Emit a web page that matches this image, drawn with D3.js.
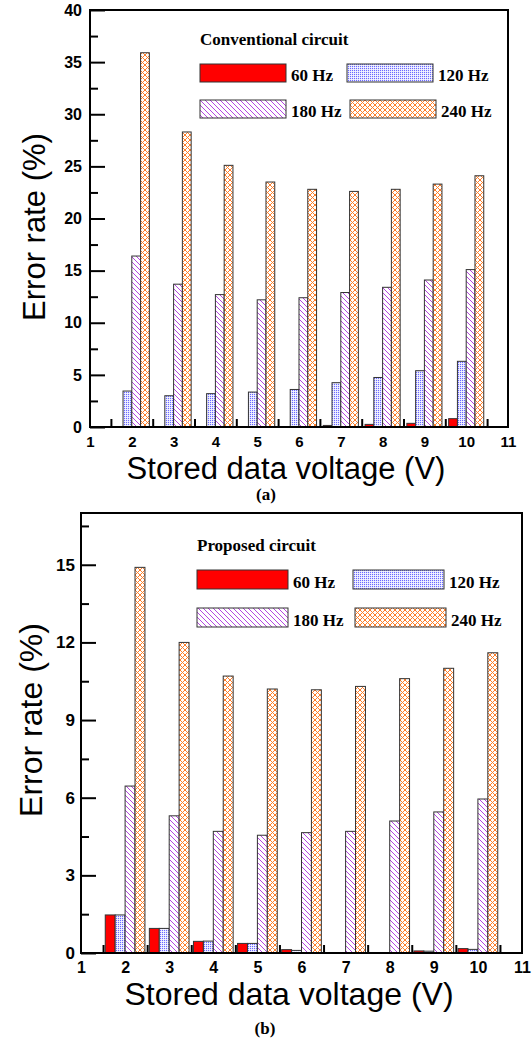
<!DOCTYPE html>
<html>
<head>
<meta charset="utf-8">
<script src="https://cdn.jsdelivr.net/npm/d3@7"></script>
<style>
  body { margin: 0; background: #fff; }
  svg { display: block; }
</style>
</head>
<body>
<div id="chart-container"></div>
<script>
// Error rate vs stored data voltage, two panels: conventional (a) and proposed (b) circuit
const voltages = [2, 3, 4, 5, 6, 7, 8, 9, 10];
const freqLabels = ["60 Hz", "120 Hz", "180 Hz", "240 Hz"];
const xTickLabels = [1, 2, 3, 4, 5, 6, 7, 8, 9, 10, 11];
const xMinorTicks = [1.5, 2.5, 3.5, 4.5, 5.5, 6.5, 7.5, 8.5, 9.5, 10.5];

// (a) conventional circuit
const convHz60 = [0, 0, 0, 0, 0.03, 0.15, 0.25, 0.35, 0.8];
const convHz120 = [3.45, 3.0, 3.2, 3.35, 3.6, 4.25, 4.75, 5.4, 6.3];
const convHz180 = [16.4, 13.7, 12.7, 12.2, 12.4, 12.9, 13.4, 14.1, 15.1];
const convHz240 = [35.9, 28.3, 25.1, 23.5, 22.8, 22.6, 22.8, 23.3, 24.1];
const convYTicks = [0, 5, 10, 15, 20, 25, 30, 35, 40];
const convYMinor = [2.5, 7.5, 12.5, 17.5, 22.5, 27.5, 32.5, 37.5];

// (b) proposed circuit
const propHz60 = [1.47, 0.95, 0.45, 0.37, 0.13, 0, 0, 0.08, 0.17];
const propHz120 = [1.47, 0.95, 0.46, 0.37, 0.1, 0, 0, 0.07, 0.14];
const propHz180 = [6.45, 5.3, 4.7, 4.55, 4.65, 4.7, 5.1, 5.45, 5.95];
const propHz240 = [14.9, 12.0, 10.7, 10.2, 10.17, 10.3, 10.6, 11.0, 11.6];
const propYTicks = [0, 3, 6, 9, 12, 15];
const propYMinor = [1.5, 4.5, 7.5, 10.5, 13.5, 16.5];

const W = 532, H = 1040;
const svg = d3.select("#chart-container").append("svg")
    .attr("width", W)
    .attr("height", H);

svg.append("rect").attr("width", W).attr("height", H).attr("fill", "#fff");

// fill patterns
const defs = svg.append("defs");

const p120 = defs.append("pattern").attr("id", "p120")
    .attr("patternUnits", "userSpaceOnUse").attr("width", 2).attr("height", 2);
p120.append("rect").attr("width", 2).attr("height", 2).attr("fill", "#e4e4ff");
p120.append("rect").attr("width", 1).attr("height", 1).attr("fill", "#6a6aff");
p120.append("rect").attr("x", 1).attr("y", 1).attr("width", 1).attr("height", 1).attr("fill", "#f4f4ff");

const p180 = defs.append("pattern").attr("id", "p180")
    .attr("patternUnits", "userSpaceOnUse").attr("width", 5).attr("height", 5);
p180.append("rect").attr("width", 5).attr("height", 5).attr("fill", "#fff");
p180.append("path")
    .attr("d", "M0,0L5,5M-1,4L1,6M4,-1L6,1")
    .attr("stroke", "#b447e0").attr("stroke-width", 1);

const p240 = defs.append("pattern").attr("id", "p240")
    .attr("patternUnits", "userSpaceOnUse").attr("width", 5).attr("height", 5);
p240.append("rect").attr("width", 5).attr("height", 5).attr("fill", "#fff");
p240.append("path")
    .attr("d", "M0,0L5,5M-1,4L1,6M4,-1L6,1M0,5L5,0M-1,1L1,-1M4,6L6,4")
    .attr("stroke", "#ff7f2a").attr("stroke-width", 1);

const fills = ["#ff0000", "url(#p120)", "url(#p180)", "url(#p240)"];

function drawPanel(cfg) {
    const g = svg.append("g");

    const x = d3.scaleLinear().domain([1, 11]).range([cfg.left, cfg.right]);
    const y = d3.scaleLinear().domain(cfg.yDomain).range([cfg.bottom, cfg.top]);
    const bw = x(1 + cfg.barW) - x(1);

    // bars
    cfg.series.forEach((vals, i) => {
        g.selectAll(null)
            .data(vals.map((v, j) => ({ v: voltages[j], val: v })))
            .enter().append("rect")
            .attr("x", d => x(d.v) + (i - 2) * bw)
            .attr("y", d => y(d.val))
            .attr("width", bw)
            .attr("height", d => y(0) - y(d.val))
            .attr("fill", fills[i])
            .attr("stroke", d => d.val > 0 ? "#333" : "none")
            .attr("stroke-width", 1);
    });

    // y axis (ticks inside)
    const yAxis = g.append("g")
        .attr("transform", `translate(${cfg.left},0)`)
        .call(d3.axisLeft(y).tickValues(cfg.yTicks).tickSize(-15).tickPadding(cfg.yPad));
    const yMinor = g.append("g")
        .attr("transform", `translate(${cfg.left},0)`)
        .call(d3.axisLeft(y).tickValues(cfg.yMinor).tickSize(-8).tickFormat(""));

    // x axis: minor ticks at half steps, labels at integers
    const xMinor = g.append("g")
        .attr("transform", `translate(0,${cfg.bottom})`)
        .call(d3.axisBottom(x).tickValues(xMinorTicks).tickSize(-8).tickFormat(""));
    const xAxis = g.append("g")
        .attr("transform", `translate(0,${cfg.bottom})`)
        .call(d3.axisBottom(x).tickValues(xTickLabels).tickSize(0).tickPadding(cfg.xPad));

    [yAxis, yMinor, xMinor, xAxis].forEach(a => {
        a.select(".domain").remove();
        a.selectAll("line").attr("stroke", "#000").attr("stroke-width", 2);
    });
    yAxis.selectAll("text")
        .style("font-family", "Liberation Sans, Arial, sans-serif")
        .style("font-size", cfg.yFont + "px")
        .style("font-weight", "bold");
    xAxis.selectAll("text")
        .style("font-family", "Liberation Sans, Arial, sans-serif")
        .style("font-size", cfg.xFont + "px")
        .style("font-weight", "bold");

    // frame
    g.append("rect")
        .attr("x", cfg.left).attr("y", cfg.top)
        .attr("width", cfg.right - cfg.left).attr("height", cfg.bottom - cfg.top)
        .attr("fill", "none").attr("stroke", "#000").attr("stroke-width", 2);

    // axis titles
    g.append("text")
        .attr("x", cfg.xTitleX).attr("y", cfg.xTitleY)
        .attr("text-anchor", "middle")
        .style("font-family", "Liberation Sans, Arial, sans-serif")
        .style("font-size", cfg.titleFont + "px")
        .text("Stored data voltage (V)");

    g.append("text")
        .attr("transform", `translate(${cfg.yTitleX},${cfg.yTitleY}) rotate(-90)`)
        .attr("text-anchor", "middle")
        .style("font-family", "Liberation Sans, Arial, sans-serif")
        .style("font-size", cfg.titleFont + "px")
        .text("Error rate (%)");

    // panel label
    g.append("text")
        .attr("x", cfg.tagX).attr("y", cfg.tagY)
        .attr("text-anchor", "middle")
        .style("font-family", "Liberation Serif, Times New Roman, serif")
        .style("font-size", "17px")
        .style("font-weight", "bold")
        .text(cfg.tag);

    // legend
    const lg = g.append("g")
        .style("font-family", "Liberation Serif, Times New Roman, serif")
        .style("font-size", "17px")
        .style("font-weight", "bold");
    lg.append("text").attr("x", cfg.legX).attr("y", cfg.legTitleY).text(cfg.legTitle);
    freqLabels.forEach((lab, i) => {
        const row = Math.floor(i / 2);
        const sx = cfg.legSwatchX[i];
        const sy = cfg.legRowY[row];
        lg.append("rect")
            .attr("x", sx).attr("y", sy)
            .attr("width", cfg.legSwW).attr("height", cfg.legSwH)
            .attr("fill", fills[i]).attr("stroke", "#333").attr("stroke-width", 1);
        lg.append("text")
            .attr("x", sx + cfg.legSwW + 5)
            .attr("y", sy + cfg.legSwH - 1)
            .text(lab);
    });
}

drawPanel({
    left: 90, right: 508, top: 10, bottom: 427,
    yDomain: [0, 40], yTicks: convYTicks, yMinor: convYMinor,
    barW: 0.21,
    series: [convHz60, convHz120, convHz180, convHz240],
    yPad: 8, xPad: 9, yFont: 16, xFont: 15, titleFont: 31,
    xTitleX: 286, xTitleY: 479,
    yTitleX: 45, yTitleY: 227,
    tag: "(a)", tagX: 266, tagY: 500,
    legTitle: "Conventional circuit", legX: 200, legTitleY: 45,
    legSwatchX: [200, 347, 200, 350], legRowY: [64, 100],
    legSwW: 86, legSwH: 18
});

drawPanel({
    left: 81, right: 522, top: 513, bottom: 953,
    yDomain: [0, 17], yTicks: propYTicks, yMinor: propYMinor,
    barW: 0.225,
    series: [propHz60, propHz120, propHz180, propHz240],
    yPad: 6, xPad: 9, yFont: 17, xFont: 16, titleFont: 32,
    xTitleX: 289, xTitleY: 1005,
    yTitleX: 42, yTitleY: 720,
    tag: "(b)", tagX: 265, tagY: 1034,
    legTitle: "Proposed circuit", legX: 197, legTitleY: 551,
    legSwatchX: [197, 353, 197, 355], legRowY: [570, 608],
    legSwW: 91, legSwH: 19
});
</script>
</body>
</html>
